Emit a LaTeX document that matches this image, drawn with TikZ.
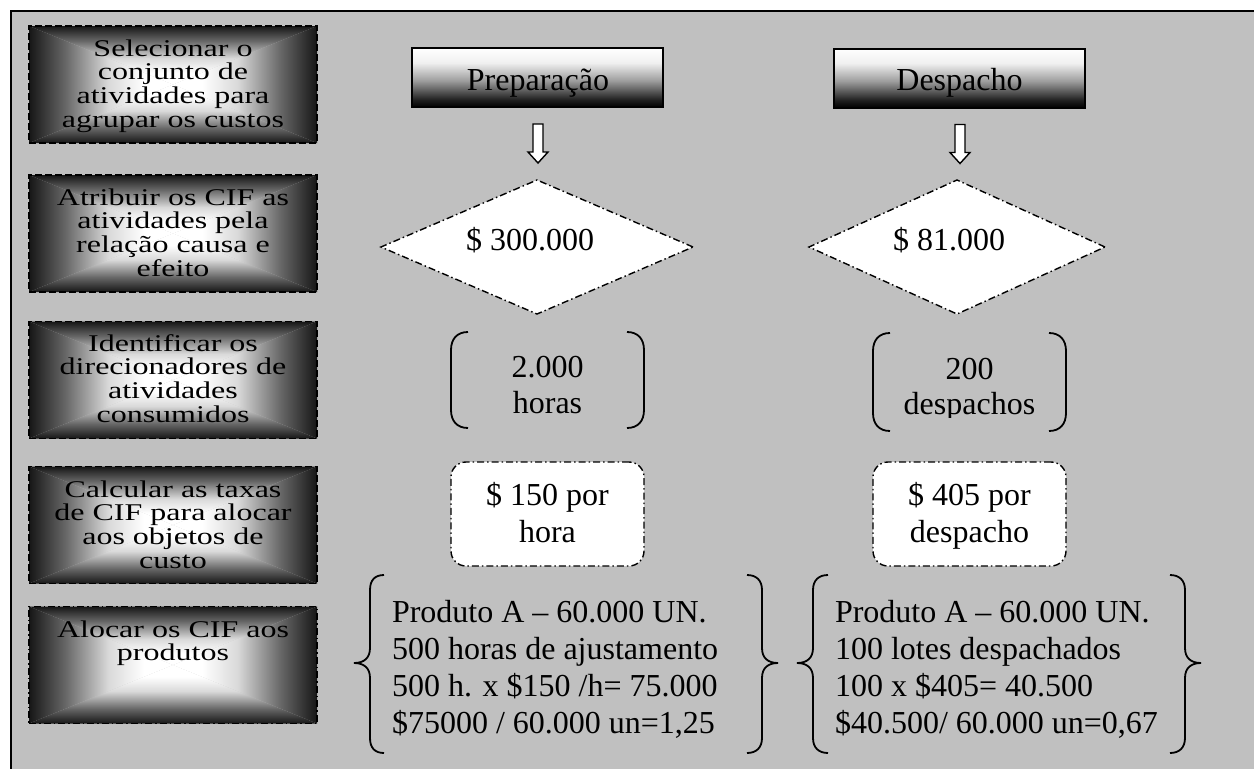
\documentclass[tikz,border=0pt]{standalone}
\usepackage{fontspec}
\usepackage{graphicx}
\setmainfont{Liberation Serif}
\usetikzlibrary{calc,shapes.geometric}
\definecolor{bg}{RGB}{192,192,192}
\definecolor{edgec}{RGB}{22,22,22}
\pgfdeclareverticalshading{hdrshade}{100bp}{color(0bp)=(black); color(25bp)=(black); color(31bp)=(black!88); color(47.5bp)=(black!38); color(62.5bp)=(black!6); color(75bp)=(white); color(100bp)=(white)}
\pgfdeclareverticalshading{gtop}{100bp}{color(0bp)=(white); color(35bp)=(white); color(47.5bp)=(black!15); color(62.5bp)=(black!60); color(75bp)=(edgec); color(100bp)=(edgec)}
\pgfdeclareverticalshading{gbot}{100bp}{color(0bp)=(edgec); color(25bp)=(edgec); color(37.5bp)=(black!60); color(52.5bp)=(black!15); color(65bp)=(white); color(100bp)=(white)}
\pgfdeclarehorizontalshading{gleft}{100bp}{color(0bp)=(edgec); color(25bp)=(edgec); color(37.5bp)=(black!60); color(52.5bp)=(black!15); color(65bp)=(white); color(100bp)=(white)}
\pgfdeclarehorizontalshading{gright}{100bp}{color(0bp)=(white); color(35bp)=(white); color(47.5bp)=(black!15); color(62.5bp)=(black!60); color(75bp)=(edgec); color(100bp)=(edgec)}
\newcommand\mytb[2]{\parbox[t]{#1}{\centering #2}}
\newcommand\mylb[2]{\parbox[t]{#1}{\raggedright #2}}
\begin{document}
\begin{tikzpicture}[x=1pt,y=-1pt,
  every node/.style={inner sep=0pt,outer sep=0pt},
  bigtxt/.style={font={\fontsize{32}{36.5}\selectfont}},
  sidetxt/.style={font={\fontsize{32}{31.6}\selectfont},anchor=base},
  gbox/.style={minimum width=288pt,minimum height=117pt,line width=1.6pt,
    path picture={
      \path (path picture bounding box.north west) coordinate (@nw)
            (path picture bounding box.south east) coordinate (@se)
            (path picture bounding box.center) coordinate (@c);
      \begin{scope}
        \clip (@nw) -- (@nw -| @se) -- (@c) -- cycle;
        \shade[shading=gtop] (@nw) rectangle (@c -| @se);
      \end{scope}
      \begin{scope}
        \clip (@nw |- @se) -- (@se) -- (@c) -- cycle;
        \shade[shading=gbot] (@c -| @nw) rectangle (@se);
      \end{scope}
      \begin{scope}
        \clip (@nw) -- (@nw |- @se) -- (@c) -- cycle;
        \shade[shading=gleft] (@nw) rectangle (@c |- @se);
      \end{scope}
      \begin{scope}
        \clip (@nw -| @se) -- (@se) -- (@c) -- cycle;
        \shade[shading=gright] (@c |- @nw) rectangle (@se);
      \end{scope}
    }},
  dashbox/.style={draw,dash pattern=on 7pt off 3pt},
  dotbox/.style={draw,dash pattern=on 7pt off 3pt on 1.5pt off 3pt},
  hdr/.style={draw,line width=2pt,shading=hdrshade,minimum width=251pt,minimum height=59pt},
  dd/.style={draw,fill=white,line width=1.4pt,dash pattern=on 7pt off 3pt on 1.5pt off 3pt},
  brk/.style={draw,line width=1.8pt},
  blockarrow/.style={draw,fill=white,line width=1.4pt,line join=miter}
]
\useasboundingbox (0,0) rectangle (1254,769);
% background
\fill[white] (0,0) rectangle (1254,769);
\fill[bg] (10,10) rectangle (1254,769);
\draw[line width=2.2pt] (11,769) -- (11,11) -- (1254,11);

% left step boxes
\node[gbox,dashbox] (s1) at (173,84.5) {};
\node[gbox,dashbox] (s2) at (173,233.5) {};
\node[gbox,dashbox] (s3) at (173,380) {};
\node[gbox,dashbox] (s4) at (173,525) {};
\node[gbox,dotbox] (s5) at (173,665) {};
\node[sidetxt] (t1) at (173,56) {\scalebox{1}[0.75]{\mytb{300pt}{Selecionar o\\conjunto de\\atividades para\\agrupar os custos}}};
\node[sidetxt] (t2) at (173,205) {\scalebox{1}[0.75]{\mytb{300pt}{Atribuir os CIF as\\atividades pela\\relação causa e\\efeito}}};
\node[sidetxt] (t3) at (173,351) {\scalebox{1}[0.75]{\mytb{300pt}{Identificar os\\direcionadores de\\atividades\\consumidos}}};
\node[sidetxt] (t4) at (173,497) {\scalebox{1}[0.75]{\mytb{300pt}{Calcular as taxas\\de CIF para alocar\\aos objetos de\\custo}}};
\node[sidetxt] (t5) at (173,637) {\scalebox{1}[0.75]{\mytb{300pt}{Alocar os CIF aos\\produtos}}};

% headers
\node[hdr] (h1) at (537.5,77.5) {};
\node[hdr] (h2) at (959.5,78) {};
\node[bigtxt,anchor=base] (h1t) at (538,90) {Preparação};
\node[bigtxt,anchor=base] (h2t) at (959.5,90) {Despacho};

% diamonds
\node[diamond,dd,minimum width=312pt,minimum height=134pt] (d1) at (537,247) {};
\node[diamond,dd,minimum width=296pt,minimum height=134pt] (d2) at (957,247) {};
\node[bigtxt,anchor=base] (d1t) at (530,250) {\$ 300.000};
\node[bigtxt,anchor=base] (d2t) at (949,250) {\$ 81.000};

% hollow arrows
\draw[blockarrow] ($(h1.south)+(-4.5,17)$) -- ++(10,0) -- ++(0,28) -- ++(5,0) -- ++(-10,11) -- ++(-10,-11) -- ++(5,0) -- cycle;
\draw[blockarrow] ($(h2.south)+(-4.5,17)$) -- ++(10,0) -- ++(0,28) -- ++(5,0) -- ++(-10,11) -- ++(-10,-11) -- ++(5,0) -- cycle;

% bracket pairs (drivers)
\draw[brk] (468,332) .. controls (457,332) and (451,339) .. (451,350) -- (451,410) .. controls (451,421) and (457,428) .. (468,428);
\draw[brk] (627,332) .. controls (638,332) and (644,339) .. (644,350) -- (644,410) .. controls (644,421) and (638,428) .. (627,428);
\draw[brk] (890,333) .. controls (879,333) and (873,340) .. (873,351) -- (873,413) .. controls (873,424) and (879,431) .. (890,431);
\draw[brk] (1049,333) .. controls (1060,333) and (1066,340) .. (1066,351) -- (1066,413) .. controls (1066,424) and (1060,431) .. (1049,431);
\node[bigtxt,anchor=base,font={\fontsize{32}{36}\selectfont}] (b1t) at (547.5,377) {\mytb{200pt}{2.000\\horas}};
\begin{scope}
  \clip (860,320) rectangle (1080,417);
  \node[bigtxt,anchor=base,font={\fontsize{32}{35}\selectfont}] (b2t) at (969.5,379) {\mytb{200pt}{200\\despachos}};
\end{scope}

% rate boxes
\node[dd,rounded corners=15pt,minimum width=193pt,minimum height=104pt] (r1) at (547.5,514) {};
\node[dd,rounded corners=15pt,minimum width=193pt,minimum height=104pt] (r2) at (969.5,514) {};
\node[bigtxt,anchor=base,font={\fontsize{32}{37}\selectfont}] (r1t) at (547.5,505) {\mytb{200pt}{\$ 150 por\\hora}};
\node[bigtxt,anchor=base,font={\fontsize{32}{37}\selectfont}] (r2t) at (969.5,505) {\mytb{200pt}{\$ 405 por\\despacho}};

% braces (allocation)
\draw[brk] (384,575) .. controls (375,575) and (370,580) .. (370,590) -- (370,648) .. controls (370,658) and (364,663) .. (354,663) .. controls (364,663) and (370,668) .. (370,678) -- (370,738) .. controls (370,748) and (375,753) .. (384,753);
\draw[brk] (747,575) .. controls (756,575) and (762,580) .. (762,590) -- (762,648) .. controls (762,658) and (768,663) .. (778,663) .. controls (768,663) and (762,668) .. (762,678) -- (762,738) .. controls (762,748) and (756,753) .. (747,753);
\draw[brk] (828,575) .. controls (819,575) and (813,580) .. (813,590) -- (813,648) .. controls (813,658) and (807,663) .. (797,663) .. controls (807,663) and (813,668) .. (813,678) -- (813,738) .. controls (813,748) and (819,753) .. (828,753);
\draw[brk] (1170,575) .. controls (1179,575) and (1185,580) .. (1185,590) -- (1185,648) .. controls (1185,658) and (1191,663) .. (1201,663) .. controls (1191,663) and (1185,668) .. (1185,678) -- (1185,738) .. controls (1185,748) and (1179,753) .. (1170,753);
\node[bigtxt,anchor=base west,font={\fontsize{32}{37}\selectfont}] (a1t) at (392,622) {\mylb{400pt}{Produto A – 60.000 UN.\\500 horas de ajustamento\\500 h. x \$150 /h= 75.000\\\$75000 / 60.000 un=1,25}};
\node[bigtxt,anchor=base west,font={\fontsize{32}{37}\selectfont}] (a2t) at (835,622) {\mylb{400pt}{Produto A – 60.000 UN.\\100 lotes despachados\\100 x \$405= 40.500\\\$40.500/ 60.000 un=0,67}};
\end{tikzpicture}
\end{document}
